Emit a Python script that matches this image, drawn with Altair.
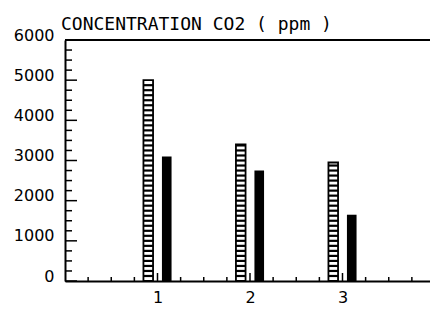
import altair as alt
import pandas as pd

# data
experiments = [1, 2, 3]
hatched_values = [5000, 3400, 2950]
solid_values = [3100, 2750, 1650]
y_major = [0, 1000, 2000, 3000, 4000, 5000, 6000]
x_labels = [1, 2, 3]
title_text = ["CONCENTRATION CO2 ( ppm )"]

hatched = pd.DataFrame({"exp": experiments, "value": hatched_values})
solid = pd.DataFrame({"exp": experiments, "value": solid_values})
y_minor = pd.DataFrame({"v": [v for v in range(0, 6001, 250) if v % 1000 != 0]})
y_major_df = pd.DataFrame({"v": y_major})
x_minor = pd.DataFrame({"v": [i / 4 for i in range(1, 17) if i % 4 != 0]})
x_major = pd.DataFrame({"v": x_labels})

W, H = 365, 241
xscale = alt.Scale(domain=[0, 3.946], nice=False, zero=False)
yscale = alt.Scale(domain=[0, 6000], nice=False)

FONT = "DejaVu Sans"

x_axis = alt.Axis(values=x_labels, format="d", ticks=False, grid=False,
                  domainColor="black", domainWidth=2, labelFont=FONT,
                  labelFontSize=16, labelColor="black", labelPadding=8)
y_axis = alt.Axis(values=y_major, format="d", ticks=False, grid=False,
                  domainColor="black", domainWidth=2, labelFont=FONT,
                  labelFontSize=16, labelColor="black", labelPadding=11,
                  labelBaseline="alphabetic")

base_h = alt.Chart(hatched).transform_calculate(
    x0="datum.exp - 0.152", x1="datum.exp - 0.048"
)

hatched_bars = base_h.mark_bar(fill="white", stroke="black", strokeWidth=1.8).encode(
    x=alt.X("x0:Q", scale=xscale, axis=x_axis, title=None),
    x2="x1:Q",
    y=alt.Y("value:Q", scale=yscale, axis=y_axis, title=None),
    y2=alt.datum(0),
)

rungs = base_h.transform_calculate(
    r="sequence(125, datum.value, 125)"
).transform_flatten(["r"]).mark_rule(color="black", strokeWidth=2.2).encode(
    x=alt.X("x0:Q", title=None), x2="x1:Q", y=alt.Y("r:Q", title=None)
)

solid_bars = alt.Chart(solid).transform_calculate(
    x0="datum.exp + 0.048", x1="datum.exp + 0.152"
).mark_bar(color="black").encode(
    x=alt.X("x0:Q", title=None), x2="x1:Q",
    y=alt.Y("value:Q", title=None), y2=alt.datum(0),
)

ytick_major = alt.Chart(y_major_df).mark_rule(color="black", strokeWidth=1.5).encode(
    y=alt.Y("v:Q", title=None), x=alt.value(0), x2=alt.value(12)
)
ytick_minor = alt.Chart(y_minor).mark_rule(color="black", strokeWidth=1.5).encode(
    y=alt.Y("v:Q", title=None), x=alt.value(0), x2=alt.value(7)
)
xtick_minor = alt.Chart(x_minor).mark_rule(color="black", strokeWidth=1.5).encode(
    x=alt.X("v:Q", title=None), y=alt.value(H), y2=alt.value(H - 4)
)
xtick_major = alt.Chart(x_major).mark_rule(color="black", strokeWidth=1.5).encode(
    x=alt.X("v:Q", title=None), y=alt.value(H), y2=alt.value(H - 8)
)
top_line = alt.Chart(pd.DataFrame({"t": [6000]})).mark_rule(color="black", strokeWidth=2).encode(
    y=alt.Y("t:Q", title=None)
)
title = alt.Chart(pd.DataFrame({"t": title_text})).mark_text(
    font="DejaVu Sans Mono", fontSize=18, color="black", align="left",
    baseline="alphabetic"
).encode(text="t:N", x=alt.value(-4), y=alt.value(-10))

chart = alt.layer(
    hatched_bars, rungs, solid_bars, ytick_major, ytick_minor,
    xtick_minor, xtick_major, top_line, title
).properties(
    width=W, height=H,
    autosize=alt.AutoSizeParams(type="none"),
    padding={"left": 57, "top": 32, "right": 0, "bottom": 26},
).configure_view(stroke=None).configure(background="white")

chart.save("out.html", embed_options={"renderer": "svg", "actions": False})
